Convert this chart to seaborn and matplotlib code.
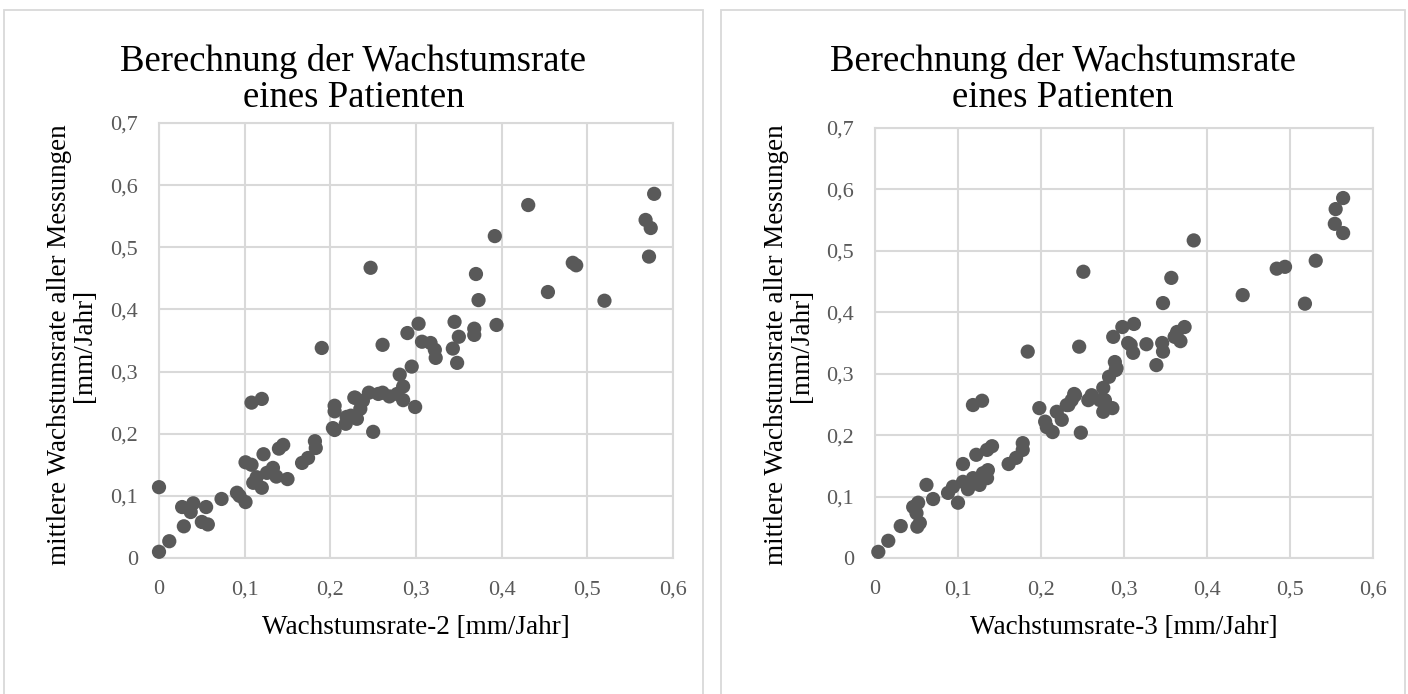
import numpy as np
import pandas as pd
import matplotlib
matplotlib.use("Agg")
import matplotlib.pyplot as plt
import seaborn as sns
from matplotlib.patches import Rectangle

# ---------------- data ----------------
rate2 = [0.000, 0.000, 0.012, 0.029, 0.027, 0.040, 0.037, 0.055, 0.050, 0.057,
         0.073, 0.091, 0.094, 0.101, 0.108, 0.101, 0.108, 0.120, 0.122, 0.110,
         0.120, 0.114, 0.126, 0.133, 0.137, 0.140, 0.145, 0.150, 0.167, 0.174,
         0.183, 0.182, 0.190, 0.205, 0.205, 0.205, 0.218, 0.231, 0.224, 0.228,
         0.238, 0.235, 0.245, 0.250, 0.247, 0.261, 0.261, 0.269, 0.285, 0.285,
         0.281, 0.295, 0.299, 0.290, 0.303, 0.307, 0.317, 0.322, 0.323, 0.343,
         0.348, 0.345, 0.350, 0.368, 0.368, 0.370, 0.373, 0.392, 0.394, 0.431,
         0.454, 0.483, 0.487, 0.520, 0.568, 0.572, 0.574, 0.578, 0.203, 0.229,
         0.256, 0.278, 0.219]
mean2 = [0.114, 0.010, 0.027, 0.051, 0.082, 0.088, 0.074, 0.082, 0.058, 0.054,
         0.095, 0.105, 0.100, 0.154, 0.150, 0.090, 0.250, 0.256, 0.167, 0.121,
         0.113, 0.130, 0.137, 0.145, 0.131, 0.176, 0.182, 0.127, 0.153, 0.161,
         0.177, 0.188, 0.338, 0.206, 0.245, 0.236, 0.216, 0.224, 0.229, 0.258,
         0.253, 0.240, 0.266, 0.203, 0.467, 0.343, 0.266, 0.260, 0.254, 0.276,
         0.295, 0.308, 0.243, 0.362, 0.377, 0.348, 0.346, 0.335, 0.322, 0.337,
         0.314, 0.380, 0.356, 0.369, 0.359, 0.457, 0.415, 0.518, 0.375, 0.568,
         0.428, 0.475, 0.471, 0.414, 0.544, 0.485, 0.531, 0.586, 0.209, 0.258,
         0.264, 0.264, 0.227]

rate3 = [0.004, 0.016, 0.031, 0.046, 0.052, 0.050, 0.054, 0.051, 0.062, 0.070,
         0.088, 0.094, 0.100, 0.106, 0.118, 0.129, 0.122, 0.106, 0.112, 0.118,
         0.126, 0.130, 0.136, 0.135, 0.141, 0.135, 0.161, 0.170, 0.178, 0.178,
         0.184, 0.198, 0.205, 0.214, 0.207, 0.219, 0.225, 0.233, 0.241, 0.237,
         0.246, 0.248, 0.257, 0.261, 0.275, 0.275, 0.277, 0.286, 0.282, 0.289,
         0.291, 0.287, 0.305, 0.298, 0.312, 0.308, 0.311, 0.327, 0.346, 0.347,
         0.339, 0.347, 0.373, 0.364, 0.368, 0.361, 0.357, 0.384, 0.251, 0.443,
         0.484, 0.494, 0.518, 0.531, 0.554, 0.555, 0.564, 0.564, 0.240, 0.271,
         0.231, 0.290]
mean3 = [0.010, 0.028, 0.052, 0.083, 0.090, 0.073, 0.057, 0.051, 0.119, 0.096,
         0.106, 0.116, 0.090, 0.153, 0.249, 0.256, 0.168, 0.124, 0.112, 0.130,
         0.119, 0.138, 0.143, 0.130, 0.182, 0.176, 0.153, 0.163, 0.176, 0.187,
         0.336, 0.244, 0.222, 0.205, 0.213, 0.238, 0.225, 0.249, 0.265, 0.257,
         0.344, 0.204, 0.257, 0.265, 0.277, 0.238, 0.257, 0.244, 0.295, 0.319,
         0.309, 0.360, 0.350, 0.376, 0.381, 0.347, 0.334, 0.348, 0.350, 0.336,
         0.314, 0.415, 0.376, 0.368, 0.353, 0.360, 0.456, 0.517, 0.466, 0.428,
         0.471, 0.474, 0.414, 0.484, 0.544, 0.568, 0.586, 0.529, 0.267, 0.257,
         0.249, 0.306]

x_ticks = [0, 0.1, 0.2, 0.3, 0.4, 0.5, 0.6]
y_ticks = [0, 0.1, 0.2, 0.3, 0.4, 0.5, 0.6, 0.7]
x_tick_labels = ["0", "0,1", "0,2", "0,3", "0,4", "0,5", "0,6"]
y_tick_labels = ["0", "0,1", "0,2", "0,3", "0,4", "0,5", "0,6", "0,7"]

title_line1 = "Berechnung der Wachstumsrate"
title_line2 = "eines Patienten"
ylabel_text = "mittlere Wachstumsrate aller Messungen\n[mm/Jahr]"
xlabel_left = "Wachstumsrate-2 [mm/Jahr]"
xlabel_right = "Wachstumsrate-3 [mm/Jahr]"

# ---------------- figure ----------------
sns.set_theme(style="white")
plt.rcParams["font.family"] = ["Liberation Serif", "DejaVu Serif"]

W, H = 1408, 694
fig = plt.figure(figsize=(W / 100, H / 100), dpi=100)
fig.patch.set_facecolor("white")

def px_axes(x0, y0, x1, y1):
    return fig.add_axes([x0 / W, 1 - y1 / H, (x1 - x0) / W, (y1 - y0) / H])

def fx(x):
    return x / W

def fy(y):
    return 1 - y / H

grid_c = "#d9d9d9"
dot_c = "#595959"
tick_c = "#595959"

# panel borders
for bx0, bx1 in [(4, 703), (721, 1405)]:
    fig.patches.append(Rectangle((fx(bx0), -0.05), (bx1 - bx0) / W, 1.05 - 10 / H,
                                 transform=fig.transFigure, fill=False,
                                 edgecolor="#d9d9d9", linewidth=1.3))

panels = [
    dict(box=(159, 123, 673, 558), x=rate2, y=mean2, xlabel=xlabel_left,
         center=353.5, ylab_x=72),
    dict(box=(875, 128, 1373, 558), x=rate3, y=mean3, xlabel=xlabel_right,
         center=1063, ylab_x=789),
]

for p in panels:
    ax = px_axes(*p["box"])
    df = pd.DataFrame({"x": p["x"], "y": p["y"]})
    sns.scatterplot(data=df, x="x", y="y", ax=ax, s=105, color=dot_c,
                    edgecolor="none", linewidth=0, zorder=3, clip_on=False)
    ax.set_xlim(0, 0.6)
    ax.set_ylim(0, 0.7)
    ax.set_xticks(x_ticks)
    ax.set_xticklabels(x_tick_labels)
    ax.set_yticks(y_ticks)
    ax.set_yticklabels(y_tick_labels)
    ax.grid(True, color=grid_c, linewidth=1.5)
    ax.set_axisbelow(True)
    for sp in ax.spines.values():
        sp.set_visible(True)
        sp.set_color(grid_c)
        sp.set_linewidth(1.5)
    ax.tick_params(axis="both", length=0, labelsize=16, labelcolor=tick_c)
    ax.tick_params(axis="x", pad=16)
    ax.tick_params(axis="y", pad=15)
    ax.set_xlabel("")
    ax.set_ylabel("")
    x0, y0, x1, y1 = p["box"]
    # x label
    fig.text(fx((x0 + x1) / 2), fy(627), p["xlabel"], ha="center", va="center",
             fontsize=19.5, color="black")
    # title
    fig.text(fx(p["center"]), fy(71), title_line1, ha="center", va="baseline",
             fontsize=26.5, color="black")
    fig.text(fx(p["center"]), fy(107), title_line2, ha="center", va="baseline",
             fontsize=26.5, color="black")
    # y label (two lines)
    fig.text(fx(p["ylab_x"]), fy(345), ylabel_text, rotation=90, ha="center",
             va="center", multialignment="center", fontsize=19.5,
             color="black", linespacing=1.0)

fig.savefig("out.png", dpi=100, facecolor="white")
